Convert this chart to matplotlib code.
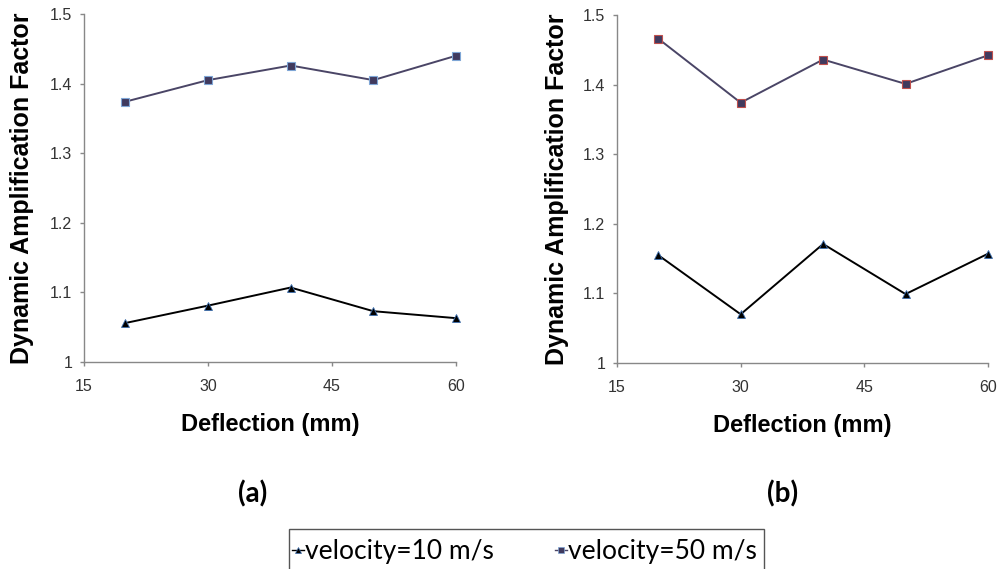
import matplotlib
matplotlib.use("Agg")
import matplotlib.pyplot as plt
from matplotlib.lines import Line2D
from matplotlib.patches import Rectangle

# Data
deflection = [20, 30, 40, 50, 60]
daf_a_10 = [1.056, 1.081, 1.107, 1.073, 1.063]
daf_a_50 = [1.374, 1.405, 1.426, 1.405, 1.440]
daf_b_10 = [1.155, 1.070, 1.171, 1.099, 1.157]
daf_b_50 = [1.466, 1.374, 1.436, 1.401, 1.442]
x_ticks = [15, 30, 45, 60]
y_ticks = [1, 1.1, 1.2, 1.3, 1.4, 1.5]
y_ticklabels = ["1", "1.1", "1.2", "1.3", "1.4", "1.5"]
legend_labels = ["velocity=10 m/s", "velocity=50 m/s"]

plt.rcParams['font.family'] = ['Liberation Sans', 'DejaVu Sans']

fig = plt.figure(figsize=(9.98, 5.69), dpi=100)
W, H = 998, 569

def make_axes(x0, x1, y0, y1):
    return fig.add_axes([x0 / W, 1 - y1 / H, (x1 - x0) / W, (y1 - y0) / H])

ax_a = make_axes(84, 456, 14, 362)
ax_b = make_axes(617, 988, 15, 363)

sq_color = "#403a5e"
panels = [(ax_a, daf_a_10, daf_a_50, "#7fa6d6", -0.167),
          (ax_b, daf_b_10, daf_b_50, "#c0504d", -0.162)]
for ax, d10, d50, sq_edge, ylab_x in panels:
    ax.plot(deflection, d50, color="#4a4566", lw=1.4, marker="s", ms=5.2,
            mfc=sq_color, mec=sq_edge, mew=0.8, clip_on=False, zorder=3)
    ax.plot(deflection, d10, color="black", lw=1.4, marker="^", ms=6.2,
            mfc="black", mec="#3d6fb0", mew=0.6, clip_on=False, zorder=3)
    ax.set_xlim(15, 60)
    ax.set_ylim(1, 1.5)
    ax.set_xticks(x_ticks)
    ax.set_yticks(y_ticks)
    ax.set_yticklabels(y_ticklabels)
    for s in ["top", "right"]:
        ax.spines[s].set_visible(False)
    for s in ["left", "bottom"]:
        ax.spines[s].set_color("#888888")
        ax.spines[s].set_linewidth(1.0)
    ax.tick_params(direction="out", length=3, width=1.0, color="#888888",
                   labelsize=11.5, labelcolor="#333333")
    ax.tick_params(axis="x", pad=9.5)
    ax.tick_params(axis="y", pad=5.5)
    ax.set_xlabel("Deflection (mm)", fontsize=17, fontweight="bold")
    ax.xaxis.set_label_coords(0.5, -0.181)
    ax.xaxis.label.set_verticalalignment("center")
    ax.set_ylabel("Dynamic Amplification Factor", fontsize=18, fontweight="bold")
    ax.yaxis.set_label_coords(ylab_x, 0.5)
    ax.yaxis.label.set_verticalalignment("center")

fig.text(253 / W, 1 - 494 / H, "(a)", fontsize=20, fontweight="bold",
         family="Lato", ha="center", va="center")
fig.text(783 / W, 1 - 494 / H, "(b)", fontsize=20, fontweight="bold",
         family="Lato", ha="center", va="center")

# legend frame (runs off the bottom edge like the original)
fig.patches.append(Rectangle((289 / W, -0.02), (764 - 289) / W,
                             (1 - 529 / H) + 0.02, transform=fig.transFigure,
                             fill=False, edgecolor="#555555", lw=1.0))

handles = [
    Line2D([], [], color="black", lw=1.0, marker="^", ms=5, mfc="black",
           mec="#3d6fb0", mew=0.5),
    Line2D([], [], color="#4a4566", lw=1.0, marker="s", ms=4, mfc=sq_color,
           mec="#7fa6d6", mew=0.5),
]
leg = fig.legend(handles, legend_labels, ncol=2, loc="center left",
                 bbox_to_anchor=(292 / W, 1 - 552 / H),
                 prop={"family": "Lato", "size": 19}, frameon=False,
                 borderaxespad=0, borderpad=0, handlelength=0.45,
                 handletextpad=0.05, columnspacing=2.3)

fig.savefig("out.png", dpi=100)
